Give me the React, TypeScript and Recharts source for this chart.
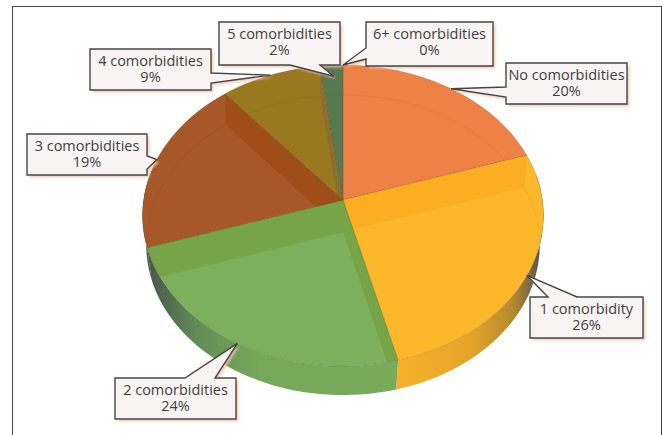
import React from "react";
import { PieChart, Pie } from "recharts";

const categories = [
  "No comorbidities",
  "1 comorbidity",
  "2 comorbidities",
  "3 comorbidities",
  "4 comorbidities",
  "5 comorbidities",
  "6+ comorbidities",
];
const shares = [20, 26, 24, 19, 9, 2, 0];

const chartData = categories.map((name, i) => ({ name, value: shares[i] }));

// top colour, colour of the inner radial walls, colour of the outer wall (by gradient id)
const faceColors = ["#ee8146", "#fdb72a", "#7db05c", "#a65829", "#99781f", "#57794f", "#f0a080"];
const bandColors = ["#e97a3c", "#fbae22", "#76a446", "#9f4e17", "#8a6f31", "#57794f", "#f0a080"];
const wallFills = ["#e0a030", "url(#wallYellow)", "url(#wallGreen)", "#4c5c48", "#4c5c48", "#4c5c48", "#4c5c48"];

// callout boxes: position, and which side the pointer leaves from
const callouts = [
  { x: 506, y: 63, w: 121, h: 41, side: "left", a: 87, b: 97, dx: 0, dy: 0 },
  { x: 530, y: 297, w: 113, h: 41, side: "top", a: 548, b: 577, dx: 0, dy: 0 },
  { x: 115, y: 378, w: 121, h: 41, side: "top", a: 185, b: 215, dx: 0, dy: 0 },
  { x: 27, y: 134, w: 120, h: 41, side: "right", a: 156, b: 169, dx: 0, dy: 0 },
  { x: 90, y: 49, w: 121, h: 41, side: "right", a: 73, b: 83, dx: 0, dy: 0 },
  { x: 219, y: 22, w: 121, h: 43, side: "bottom", a: 290, b: 320, dx: 2, dy: 11 },
  { x: 366, y: 22, w: 127, h: 44, side: "left", a: 48, b: 59, dx: 0, dy: 0 },
];

// the disc is seen in perspective: k shortens the far side and widens the near one
const TOP = { x: 343, y: 200, rx: 199.4, ry: 148.9, k: 0.103 };
const FLOOR = { x: 343, y: 232, rx: 196, ry: 148.9, k: 0.0867 };

type Disc = typeof TOP;

function project(d: Disc, clockDeg: number) {
  const t = (clockDeg * Math.PI) / 180;
  const u = Math.sin(t);
  const v = -Math.cos(t);
  const w = 1 - d.k * v;
  return { x: d.x + (d.rx * u) / w, y: d.y + (d.ry * v) / w };
}

function arc(d: Disc, from: number, to: number) {
  const steps = Math.max(2, Math.ceil(Math.abs(to - from) / 2));
  const pts = [];
  for (let i = 0; i <= steps; i++) pts.push(project(d, from + ((to - from) * i) / steps));
  return pts;
}

const toPath = (pts: { x: number; y: number }[], close = true) =>
  pts.map((p, i) => `${i ? "L" : "M"}${p.x.toFixed(1)} ${p.y.toFixed(1)}`).join("") + (close ? "Z" : "");

function Slice3D(props: any) {
  const { startAngle, endAngle, index } = props;
  const from = 90 - startAngle;
  const to = 90 - endAngle;
  if (to - from < 0.01) return null;

  const topPts = arc(TOP, from, to);
  const topPath = toPath([{ x: TOP.x, y: TOP.y }, ...topPts]);
  const clipId = `slice-${index}`;

  // outer wall only exists on the side facing the viewer
  const wallFrom = Math.max(from, 80);
  const wallTo = Math.min(to, 285);
  const wall =
    wallTo > wallFrom
      ? toPath([...arc(TOP, wallFrom, wallTo), ...arc(FLOOR, wallFrom, wallTo).reverse()])
      : null;

  const radialWall = (deg: number) =>
    toPath([
      { x: TOP.x, y: TOP.y },
      project(TOP, deg),
      project(FLOOR, deg),
      { x: FLOOR.x, y: FLOOR.y },
    ]);

  return (
    <g>
      <clipPath id={clipId}>
        <path d={topPath} />
      </clipPath>
      {wall && <path d={wall} fill={wallFills[index]} />}
      <path d={topPath} fill={faceColors[index]} />
      <g clipPath={`url(#${clipId})`}>
        <path d={radialWall(from)} fill={bandColors[index]} />
        <path d={radialWall(to)} fill={bandColors[index]} />
        <path d={toPath(arc(FLOOR, from, to), false)} fill="none" stroke="rgba(90,50,10,0.06)" strokeWidth={1} />
      </g>
      <path d={topPath} fill="none" stroke="rgba(70,60,30,0.3)" strokeWidth={0.6} />
    </g>
  );
}

function calloutPath(box: (typeof callouts)[number], tip: { x: number; y: number }) {
  const { x, y, w, h, side, a, b } = box;
  const r = x + w;
  const bt = y + h;
  const t = `${tip.x} ${tip.y}`;
  if (side === "left") return `M${x} ${y}H${r}V${bt}H${x}V${b}L${t}L${x} ${a}Z`;
  if (side === "right") return `M${x} ${y}H${r}V${a}L${t}L${r} ${b}V${bt}H${x}Z`;
  if (side === "top") return `M${x} ${y}H${a}L${t}L${b} ${y}H${r}V${bt}H${x}Z`;
  return `M${x} ${y}H${r}V${bt}H${b}L${t}L${a} ${bt}H${x}Z`;
}

function Callout(props: any) {
  const { index, midAngle, name, value } = props;
  const box = callouts[index];
  const rim = project(TOP, 90 - midAngle);
  const tip = { x: rim.x + box.dx, y: rim.y + box.dy };
  const d = calloutPath(box, tip);
  const cx = box.x + box.w / 2;
  return (
    <g>
      <path d={d} transform="translate(2.5 2.5)" fill="#f3bfa6" opacity={0.8} filter="url(#calloutShadow)" />
      <path d={d} fill="#f7f4f3" stroke="#454545" strokeWidth={1.4} strokeLinejoin="miter" />
      <text textAnchor="middle" fontFamily="Open Sans" fontSize={14.5} fill="#3f3f3f">
        <tspan x={cx} y={box.y + 17}>{name}</tspan>
        <tspan x={cx} y={box.y + 33}>{value}%</tspan>
      </text>
    </g>
  );
}

export default function App() {
  return (
    <div style={{ position: "absolute", left: 0, top: 0, width: 662, height: 435, overflow: "hidden", background: "#fff" }}>
      <div
        style={{
          position: "absolute",
          left: 12,
          top: 6,
          width: 650,
          height: 440,
          border: "1.5px solid #444",
          boxSizing: "border-box",
        }}
      />
      <svg width={0} height={0} style={{ position: "absolute" }}>
        <defs>
          <linearGradient id="wallYellow" gradientUnits="userSpaceOnUse" x1={397} y1={0} x2={542} y2={0}>
            <stop offset="0" stopColor="#f6b02a" />
            <stop offset="0.5" stopColor="#e6a52a" />
            <stop offset="0.8" stopColor="#b48a2e" />
            <stop offset="1" stopColor="#55524a" />
          </linearGradient>
          <linearGradient id="wallGreen" gradientUnits="userSpaceOnUse" x1={148} y1={0} x2={397} y2={0}>
            <stop offset="0" stopColor="#46574c" />
            <stop offset="0.2" stopColor="#638d58" />
            <stop offset="0.45" stopColor="#76a85a" />
            <stop offset="1" stopColor="#78aa5a" />
          </linearGradient>
          <filter id="calloutShadow" x="-10%" y="-20%" width="120%" height="140%">
            <feGaussianBlur stdDeviation="1" />
          </filter>
        </defs>
      </svg>
      <PieChart width={662} height={435} margin={{ top: 0, right: 0, bottom: 0, left: 0 }} style={{ position: "absolute", left: 0, top: 0 }}>
        <Pie
          data={chartData}
          dataKey="value"
          nameKey="name"
          cx={TOP.x}
          cy={TOP.y}
          outerRadius={200}
          startAngle={90}
          endAngle={-270}
          stroke="none"
          shape={Slice3D}
          label={Callout}
          labelLine={false}
          isAnimationActive={false}
        />
      </PieChart>
    </div>
  );
}
